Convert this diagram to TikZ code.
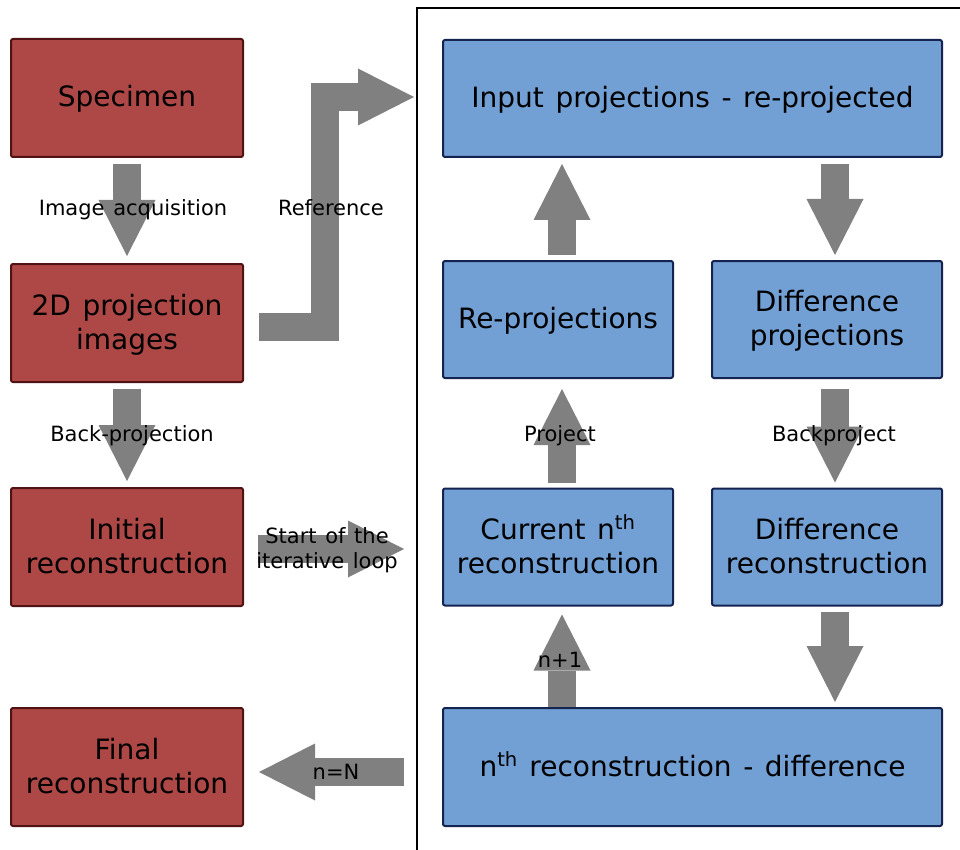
\documentclass[tikz,border=0pt]{standalone}
\usepackage{fontspec}
\setmainfont[WordSpace=1.3]{DejaVu Sans}
\usetikzlibrary{arrows.meta}
\definecolor{redfill}{RGB}{174,72,70}
\definecolor{redline}{RGB}{80,18,18}
\definecolor{bluefill}{RGB}{114,159,212}
\definecolor{blueline}{RGB}{20,35,80}
\definecolor{arrowgray}{RGB}{128,128,128}
\newcommand{\mystrut}{\rule[-8pt]{0pt}{34pt}}
\begin{document}
\begin{tikzpicture}[x=1pt,y=-1pt,
 box/.style={draw, line width=2pt, rounded corners=2pt, align=center, font=\fontsize{28}{34}\selectfont, inner sep=0pt},
 redbox/.style={box, fill=redfill, draw=redline, minimum width=232pt, minimum height=118pt},
 bluebox/.style={box, fill=bluefill, draw=blueline, minimum height=117pt},
 fat/.style={draw=arrowgray, line width=28pt, line join=miter, -{Triangle[width=57pt,length=56pt,line width=0pt]}},
 lbl/.style={font=\fontsize{21}{25}\selectfont, align=center, inner sep=0pt, anchor=base}]
\useasboundingbox (0,0) rectangle (960,850);
% frame
\coordinate (fbot) at (417,850);
\coordinate (fcorner) at (417,8);
\coordinate (fright) at (960,8);
\draw[line width=2pt] (fbot) -- (fcorner) -- (fright);
% left column
\node[redbox] (spec) at (127,98) {\mystrut Specimen};
\node[redbox] (proj) at (127,323) {\mystrut 2D projection\\\mystrut images};
\node[redbox] (init) at (127,547) {\mystrut Initial\\\mystrut reconstruction};
\node[redbox] (final) at (127,767) {\mystrut Final\\\mystrut reconstruction};
% right column
\node[bluebox, minimum width=499pt] (inp) at (692.5,98.5) {\mystrut Input projections - re-projected};
\node[bluebox, minimum width=230pt] (reproj) at (558,319.5) {\mystrut Re-projections};
\node[bluebox, minimum width=230pt] (diffp) at (827,319.5) {\mystrut Difference\\\mystrut projections};
\node[bluebox, minimum width=230pt] (cur) at (558,547) {\mystrut Current n\textsuperscript{th}\\\mystrut reconstruction};
\node[bluebox, minimum width=230pt] (diffr) at (827,547) {\mystrut Difference\\\mystrut reconstruction};
\node[bluebox, minimum width=499pt, minimum height=118pt] (nrec) at (692.5,767) {\mystrut n\textsuperscript{th} reconstruction - difference};
% arrows
\draw[fat] ([yshift=-6pt]spec.south) -- ([yshift=7pt]proj.north);
\draw[fat] ([yshift=-6pt]proj.south) -- ([yshift=6pt]init.north);
\draw[fat] ([xshift=15pt,yshift=-4pt]proj.east) -- (325,327) -- (325,97) -- ([xshift=-28pt,yshift=1.5pt]inp.west);
\draw[fat] ([xshift=14pt,yshift=-2pt]init.east) -- ([xshift=-38pt,yshift=-2pt]cur.west);
\draw[fat] ([xshift=-38pt,yshift=-5pt]nrec.west) -- ([xshift=15pt,yshift=-5pt]final.east);
\draw[fat] ([xshift=4pt,yshift=5pt]reproj.north) -- ([xshift=4pt,yshift=-6pt]reproj.north |- inp.south);
\draw[fat] ([xshift=8pt,yshift=-6pt]diffp.north |- inp.south) -- ([xshift=8pt,yshift=5pt]diffp.north);
\draw[fat] ([xshift=4pt,yshift=5pt]cur.north) -- ([xshift=4pt,yshift=-10pt]reproj.south);
\draw[fat] ([xshift=8pt,yshift=-10pt]diffp.south) -- ([xshift=8pt,yshift=5pt]diffr.north);
\draw[fat] ([xshift=4pt]cur.south |- nrec.north) -- ([xshift=4pt,yshift=-8pt]cur.south);
\draw[fat] ([xshift=8pt,yshift=-5pt]diffr.south) -- ([xshift=8pt,yshift=5pt]diffr.south |- nrec.north);
% labels
\node[lbl] (l1) at (133,215) {Image acquisition};
\node[lbl] (l2) at (132,441) {Back-projection};
\node[lbl] (l3) at (331,215) {Reference};
\node[lbl, anchor=center] (l4) at (327,550) {Start of the\\iterative loop};
\node[lbl] (l5) at (336,779) {n=N};
\node[lbl] (l6) at (560,441) {Project};
\node[lbl] (l7) at (834,441) {Backproject};
\node[lbl] (l8) at (560,667) {n+1};
\end{tikzpicture}
\end{document}
